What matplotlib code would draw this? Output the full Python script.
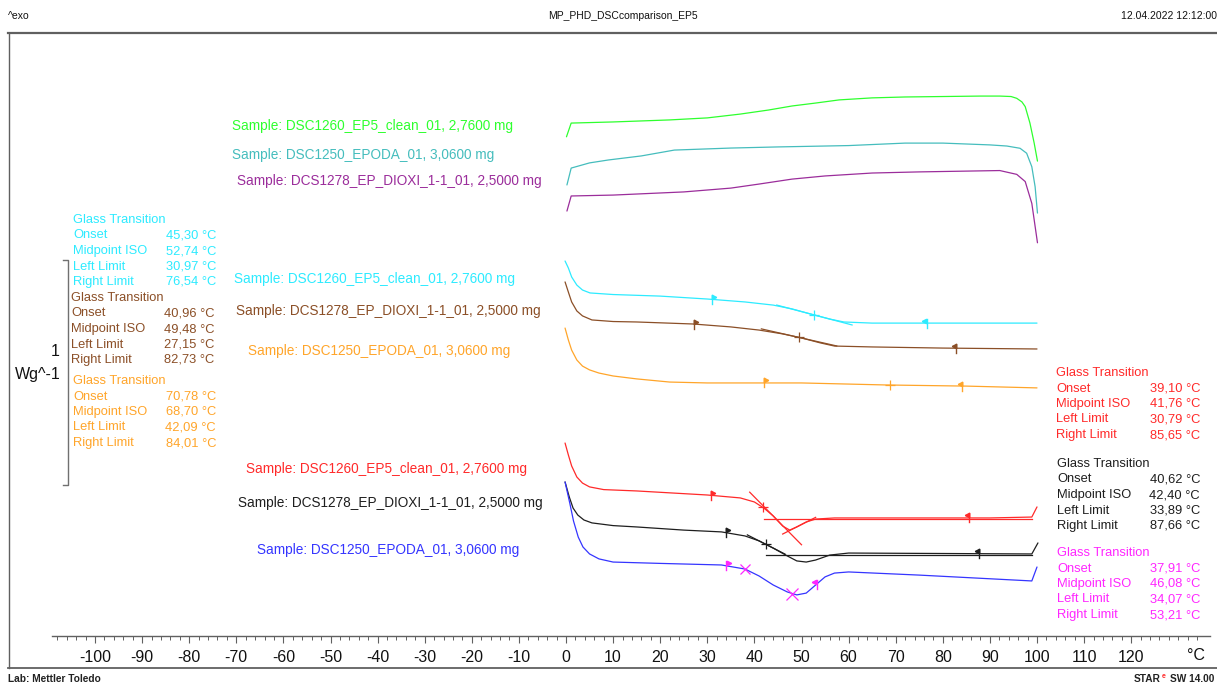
import numpy as np
import matplotlib
matplotlib.use("Agg")
import matplotlib.pyplot as plt
from matplotlib.lines import Line2D

plt.rcParams['font.family'] = ['Liberation Sans', 'DejaVu Sans']
plt.rcParams['axes.unicode_minus'] = False

# ---------------- data (temperature in °C, heat flow in W/g incl. display offsets) ----------------
green_T = [0.1, 1.1, 10, 22, 30, 37, 43, 48, 53, 58, 65, 72, 80, 88, 92.1, 94.5, 95.7, 96.8, 97.5, 98.5,
           99.4, 100.1]
green_hf = [2.432, 2.493, 2.498, 2.507, 2.516, 2.533, 2.551, 2.569, 2.582, 2.596, 2.605, 2.609, 2.611,
            2.613, 2.613, 2.611, 2.603, 2.587, 2.566, 2.493, 2.404, 2.324]

teal_T = [0.2, 1.1, 5, 9, 16, 23, 35, 45, 60, 72, 80, 90, 93.6, 96.4, 97.8, 98.9, 99.6, 100.1]
teal_hf = [2.218, 2.293, 2.316, 2.329, 2.347, 2.373, 2.382, 2.387, 2.393, 2.404, 2.404, 2.396, 2.391,
           2.381, 2.359, 2.299, 2.210, 2.093]

purple_T = [0.2, 1.1, 10, 25, 35, 41, 48, 55, 65, 75, 92.1, 95.7, 97.5, 98.9, 100.1]
purple_hf = [2.102, 2.169, 2.173, 2.187, 2.204, 2.222, 2.244, 2.258, 2.271, 2.276, 2.282, 2.265, 2.233,
             2.136, 1.961]

cyan_T = [-0.2, 0.5, 1.2, 2.3, 3.5, 5.1, 10, 20, 30, 38, 44, 48, 52, 56, 59, 65, 100]
cyan_hf = [1.880, 1.849, 1.809, 1.773, 1.751, 1.738, 1.731, 1.724, 1.711, 1.698, 1.684, 1.667, 1.644,
           1.622, 1.609, 1.604, 1.604]

brown_T = [-0.2, 0.5, 1.2, 2.3, 3.5, 5.5, 10, 15, 27, 35, 41, 46, 50, 54, 57, 65, 80, 100]
brown_hf = [1.787, 1.742, 1.698, 1.658, 1.636, 1.618, 1.611, 1.609, 1.600, 1.587, 1.573, 1.556, 1.538,
            1.516, 1.502, 1.498, 1.493, 1.489]

orange_T = [-0.2, 0.5, 1.2, 2.3, 3.5, 5, 7, 10, 15, 22, 30, 50, 68, 85, 100]
orange_hf = [1.582, 1.529, 1.484, 1.440, 1.413, 1.396, 1.382, 1.369, 1.356, 1.342, 1.338, 1.338, 1.329,
             1.324, 1.316]

red_T = [-0.2, 0.5, 1.2, 2.3, 3.5, 5, 8, 15, 30, 37, 40, 42, 44, 46, 47.5, 49, 51, 53, 57, 75, 90,
         98.9, 100]
red_hf = [1.071, 1.018, 0.969, 0.920, 0.893, 0.876, 0.864, 0.858, 0.840, 0.827, 0.809, 0.782, 0.747,
          0.702, 0.684, 0.698, 0.720, 0.733, 0.738, 0.738, 0.738, 0.742, 0.787]

black_T = [-0.2, 0.7, 1.5, 2.5, 3.8, 5.5, 10, 15, 25, 33, 38, 41, 44, 47, 49, 51, 53, 56, 60, 80, 98.9,
           100.2]
black_hf = [0.898, 0.831, 0.782, 0.751, 0.729, 0.716, 0.704, 0.698, 0.684, 0.676, 0.658, 0.636, 0.604,
            0.569, 0.547, 0.542, 0.551, 0.573, 0.582, 0.580, 0.578, 0.627]

blue_T = [-0.2, 0.8, 1.6, 2.6, 3.6, 5, 7, 10, 20, 33, 38, 41, 44, 47, 49, 51, 53, 55, 57, 60, 75,
          98.9, 100]
blue_hf = [0.898, 0.804, 0.724, 0.653, 0.609, 0.578, 0.556, 0.542, 0.536, 0.529, 0.511, 0.480, 0.440,
           0.409, 0.396, 0.404, 0.440, 0.476, 0.493, 0.498, 0.484, 0.458, 0.520]

sample_names = ["Sample: DSC1260_EP5_clean_01, 2,7600 mg",
                "Sample: DSC1250_EPODA_01, 3,0600 mg",
                "Sample: DCS1278_EP_DIOXI_1-1_01, 2,5000 mg"]

gt_rows = ["Onset", "Midpoint ISO", "Left Limit", "Right Limit"]
# Onset, Midpoint ISO, Left Limit, Right Limit
cyan_gt = [45.30, 52.74, 30.97, 76.54]
brown_gt = [40.96, 49.48, 27.15, 82.73]
orange_gt = [70.78, 68.70, 42.09, 84.01]
red_gt = [39.10, 41.76, 30.79, 85.65]
black_gt = [40.62, 42.40, 33.89, 87.66]
magenta_gt = [37.91, 46.08, 34.07, 53.21]

scale_bar_wg = 1.0
x_major = list(range(-100, 121, 10))

# ---------------- colours ----------------
C_GREEN = '#2EFF2E'
C_TEAL = '#45BDBD'
C_PURPLE = '#9B2D9B'
C_CYAN = '#2DEBFF'
C_BROWN = '#8B4F27'
C_ORANGE = '#FFA52A'
C_RED = '#FF2A2A'
C_BLACK = '#1E1E1E'
C_BLUE = '#3535FF'
C_MAG = '#FF26FF'
C_FRAME = '#606060'

# ---------------- layout ----------------
W, H = 1217, 684
fig = plt.figure(figsize=(W / 100, H / 100), dpi=100)


def fx(px):
    return px / W


def fy(py):
    return 1 - py / H


PX0 = 566.0      # pixel of 0 °C
PX_PER_C = 4.71
WG_PX = 225.0    # pixels per W/g
HF_TOP = 3.04    # heat-flow value at the top of the picture

ax_l, ax_r, ax_b, ax_t = 52, 1210, 636, 33
ax = fig.add_axes([fx(ax_l), fy(ax_b), fx(ax_r) - fx(ax_l), fy(ax_t) - fy(ax_b)])
ax.set_xlim((ax_l - PX0) / PX_PER_C, (ax_r - PX0) / PX_PER_C)
ax.set_ylim(HF_TOP - ax_b / WG_PX, HF_TOP - ax_t / WG_PX)
ax.patch.set_alpha(0)
for s in ['top', 'left', 'right']:
    ax.spines[s].set_visible(False)
ax.spines['bottom'].set_color(C_FRAME)
ax.spines['bottom'].set_linewidth(1.0)
ax.set_yticks([])
ax.set_xticks(x_major)
ax.set_xticklabels([str(v) for v in x_major])
ax.set_xticks(np.arange(-108, 135, 2), minor=True)
ax.tick_params(axis='x', which='major', direction='out', length=5, width=0.8, color=C_FRAME,
               labelsize=11.5, pad=5, labelcolor='#111111')
ax.tick_params(axis='x', which='minor', direction='out', length=3, width=0.7, color=C_FRAME)

# ---------------- curves ----------------
LW = 0.9
curves = [
    (green_T, green_hf, C_GREEN), (teal_T, teal_hf, C_TEAL), (purple_T, purple_hf, C_PURPLE),
    (cyan_T, cyan_hf, C_CYAN), (brown_T, brown_hf, C_BROWN), (orange_T, orange_hf, C_ORANGE),
    (red_T, red_hf, C_RED), (black_T, black_hf, C_BLACK), (blue_T, blue_hf, C_BLUE),
]
for T, hf, c in curves:
    ax.plot(T, hf, color=c, lw=LW, solid_capstyle='round', solid_joinstyle='round', zorder=3)

# ---------------- evaluation marks ----------------
dy = 4.5 / WG_PX


def flag(T, hf, t, c, side):
    y = np.interp(t, T, hf)
    ax.plot([t, t], [y - dy, y + dy], color=c, lw=1.0, zorder=4)
    ax.plot([t + side * 0.45], [y + dy * 0.55], marker='>' if side > 0 else '<', ms=3.2,
            color=c, mec=c, zorder=4)


def cross(T, hf, t, c, m='+', ms=7):
    y = np.interp(t, T, hf)
    ax.plot([t], [y], marker=m, ms=ms, mew=0.9, color=c, zorder=4)


def tangent(T, hf, t, c, half=7.0):
    y = np.interp(t, T, hf)
    k = (np.interp(t + 1, T, hf) - np.interp(t - 1, T, hf)) / 2
    ax.plot([t - half, t + half], [y - k * half, y + k * half], color=c, lw=0.9, zorder=4)


evals = [(cyan_T, cyan_hf, cyan_gt, C_CYAN), (brown_T, brown_hf, brown_gt, C_BROWN),
         (orange_T, orange_hf, orange_gt, C_ORANGE), (red_T, red_hf, red_gt, C_RED),
         (black_T, black_hf, black_gt, C_BLACK)]
for T, hf, gt, c in evals:
    flag(T, hf, gt[2], c, +1)
    flag(T, hf, gt[3], c, -1)
    cross(T, hf, gt[1], c)

tangent(cyan_T, cyan_hf, cyan_gt[1], C_CYAN, 8)
tangent(brown_T, brown_hf, brown_gt[1], C_BROWN, 8)
tangent(red_T, red_hf, 44.5, C_RED, 5.5)
tangent(black_T, black_hf, 42.5, C_BLACK, 4)
# extended post-transition baselines
for T, hf, gt, c, t0 in [(red_T, red_hf, red_gt, C_RED, 42.0), (black_T, black_hf, black_gt, C_BLACK, 42.5)]:
    yb = np.interp(gt[3], T, hf) - 1.5 / WG_PX
    ax.plot([t0, 99.0], [yb, yb], color=c, lw=0.9, zorder=4)
tangent(red_T, red_hf, 49.5, C_RED, 3.5)

# blue curve evaluation in magenta
flag(blue_T, blue_hf, magenta_gt[2], C_MAG, +1)
flag(blue_T, blue_hf, magenta_gt[3], C_MAG, -1)
cross(blue_T, blue_hf, magenta_gt[0], C_MAG, 'x', 7)
cross(blue_T, blue_hf, magenta_gt[1] + 2.0, C_MAG, 'x', 9)

# ---------------- 1 W/g scale bar ----------------
xb = (68 - PX0) / PX_PER_C
xe = (63 - PX0) / PX_PER_C
yb0 = HF_TOP - 485 / WG_PX
ax.plot([xe, xb, xb, xe], [yb0, yb0, yb0 + scale_bar_wg, yb0 + scale_bar_wg], color='#707070', lw=1.0)
fig.text(fx(60), fy(352), f"{scale_bar_wg:g}", ha='right', va='center', fontsize=11.5, color='#111111')
fig.text(fx(61), fy(374), "Wg^-1", ha='right', va='center', fontsize=11.5, color='#111111')

# ---------------- sample labels ----------------
FS_S = 9.8
labels = [
    (sample_names[0], 232, 126, C_GREEN), (sample_names[1], 232, 155, C_TEAL),
    (sample_names[2], 237, 181, C_PURPLE), (sample_names[0], 234, 279, C_CYAN),
    (sample_names[2], 236, 311, C_BROWN), (sample_names[1], 248, 351, C_ORANGE),
    (sample_names[0], 246, 469, C_RED), (sample_names[2], 238, 503, C_BLACK),
    (sample_names[1], 257, 550, C_BLUE),
]
for s, x, y, c in labels:
    fig.text(fx(x), fy(y), s, ha='left', va='center', fontsize=FS_S, color=c)

# ---------------- glass transition result blocks ----------------
FS_A = 9.3


def block(vals, x, y, xr, c):
    fig.text(fx(x), fy(y), "Glass Transition", ha='left', va='center', fontsize=FS_A, color=c)
    for i, (name, v) in enumerate(zip(gt_rows, vals)):
        yy = y + 15.5 * (i + 1)
        fig.text(fx(x), fy(yy), name, ha='left', va='center', fontsize=FS_A, color=c)
        fig.text(fx(xr), fy(yy), f"{v:.2f} °C".replace('.', ','), ha='right', va='center',
                 fontsize=FS_A, color=c)


block(cyan_gt, 73, 220, 216, C_CYAN)
block(brown_gt, 71, 298, 214, C_BROWN)
block(orange_gt, 73, 381, 216, C_ORANGE)
block(red_gt, 1056, 373, 1200, C_RED)
block(black_gt, 1057, 464, 1200, C_BLACK)
block(magenta_gt, 1057, 553, 1200, C_MAG)

# ---------------- frame, header, footer ----------------
fig.add_artist(Line2D([fx(8), fx(1217)], [fy(33), fy(33)], color=C_FRAME, lw=1.6))
fig.add_artist(Line2D([fx(8.5), fx(8.5)], [fy(33), fy(668)], color=C_FRAME, lw=1.0))
fig.add_artist(Line2D([fx(8), fx(1217)], [fy(668), fy(668)], color=C_FRAME, lw=1.3))

fig.text(fx(8), fy(16), "^exo", ha='left', va='center', fontsize=7.5, color='#111111')
fig.text(fx(623), fy(16), "MP_PHD_DSCcomparison_EP5", ha='center', va='center', fontsize=7.5, color='#111111')
fig.text(fx(1217), fy(16), "12.04.2022 12:12:00", ha='right', va='center', fontsize=7.5, color='#111111')
fig.text(fx(1196), fy(655), "°C", ha='center', va='center', fontsize=11.5, color='#111111')

fig.text(fx(8), fy(679), "Lab: Mettler Toledo", ha='left', va='center', fontsize=7.3,
         fontweight='bold', color='#222222')
fig.text(fx(1214), fy(679), "SW 14.00", ha='right', va='center', fontsize=7.3, fontweight='bold', color='#222222')
fig.text(fx(1164), fy(677), "e", ha='center', va='center', fontsize=5, fontweight='bold', color=C_RED)
fig.text(fx(1161), fy(679), "STAR", ha='right', va='center', fontsize=7.3, fontweight='bold', color='#222222')

fig.savefig("out.png", dpi=100)
